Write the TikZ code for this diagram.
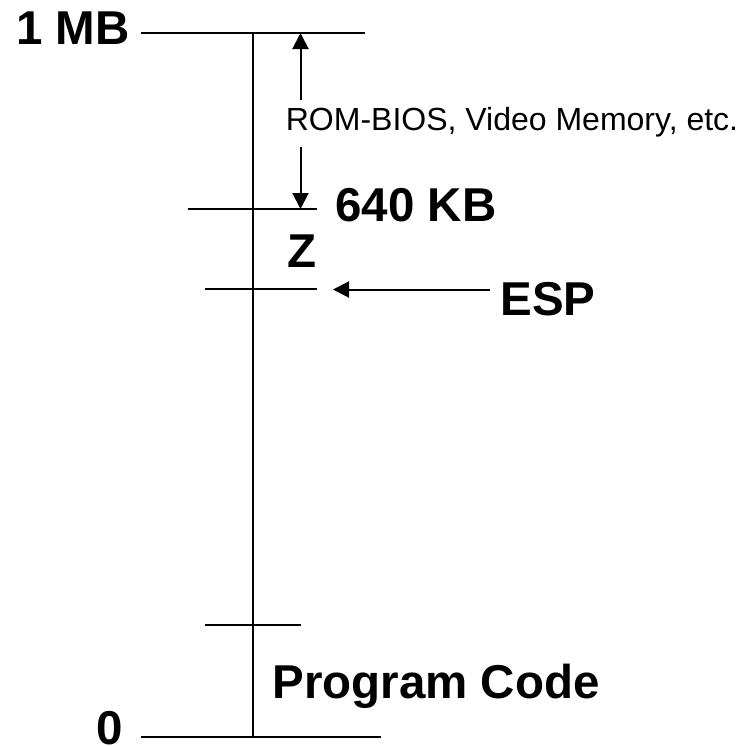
\documentclass[tikz,border=0pt]{standalone}
\usepackage{fontspec}
\setmainfont{Liberation Sans}
\usetikzlibrary{arrows.meta}
\begin{document}
\begin{tikzpicture}[x=1pt,y=-1pt,
  rule/.style={line width=2.2pt},
  ptr/.style={line width=2pt,-{Triangle[length=16pt,width=16pt]}},
  bigtxt/.style={font=\fontsize{47.5}{56}\selectfont\bfseries,inner sep=0pt,anchor=base},
  smalltxt/.style={font=\fontsize{32}{38}\selectfont,inner sep=0pt,anchor=base}]
\useasboundingbox (0,0) rectangle (753,745);
% coordinates
\coordinate (t1) at (141,33);
\coordinate (t2) at (365,33);
\coordinate (v1) at (253,33);
\coordinate (v2) at (253,737);
\coordinate (b1) at (141,737);
\coordinate (b2) at (381,737);
\coordinate (k1) at (188,209);
\coordinate (k2) at (317,209);
\coordinate (e1) at (205,289);
\coordinate (e2) at (317,289);
\coordinate (p1) at (205,625);
\coordinate (p2) at (301,625);
\coordinate (au1) at (300.5,100);
\coordinate (au2) at (300.5,33);
\coordinate (ad1) at (300.5,147);
\coordinate (ad2) at (300.5,209);
\coordinate (es1) at (490,289.5);
\coordinate (es2) at (333,289.5);
% lines
\draw[rule] (t1) -- (t2);
\draw[rule] (v1) -- (v2);
\draw[rule] (b1) -- (b2);
\draw[rule] (k1) -- (k2);
\draw[rule] (e1) -- (e2);
\draw[rule] (p1) -- (p2);
% arrows
\draw[ptr] (au1) -- (au2);
\draw[ptr] (ad1) -- (ad2);
\draw[ptr] (es1) -- (es2);
% labels
\node[bigtxt] (mb) at (73,44) {1 MB};
\node[smalltxt] (rom) at (512,130) {ROM-BIOS, Video Memory, etc.};
\node[bigtxt] (kb) at (416,221) {640 KB};
\node[bigtxt] (z) at (302.5,267) {Z};
\node[bigtxt] (esp) at (548,315) {ESP};
\node[bigtxt] (pc) at (436,698) {Program Code};
\node[bigtxt] (zero) at (109.5,744) {0};
\end{tikzpicture}
\end{document}
